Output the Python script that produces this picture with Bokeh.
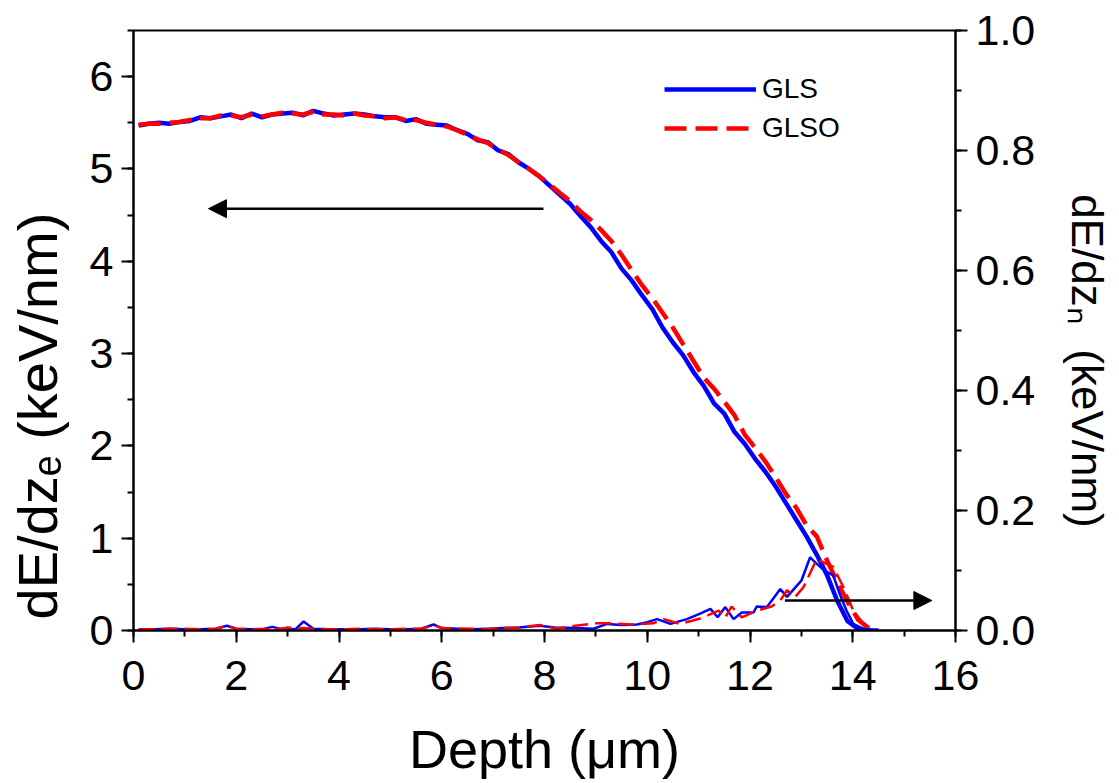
from bokeh.plotting import figure
from bokeh.models import (Range1d, LinearAxis, SingleIntervalTicker, PrintfTickFormatter,
                          Legend, LegendItem, Arrow, NormalHead)
from bokeh.embed import file_html
from bokeh.resources import INLINE

# ---------------- data ----------------
depth_e = [0.1, 0.3, 0.5, 0.7, 0.9, 1.1, 1.3, 1.5, 1.7, 1.9,
           2.1, 2.3, 2.5, 2.7, 2.9, 3.1, 3.3, 3.5, 3.7, 3.9,
           4.1, 4.3, 4.5, 4.7, 4.9, 5.1, 5.3, 5.5, 5.7, 5.9,
           6.1, 6.3, 6.5, 6.7, 6.9, 7.1, 7.3, 7.5, 7.7, 7.9,
           8.1, 8.3, 8.5, 8.7, 8.9, 9.1, 9.3, 9.5, 9.7, 9.9,
           10.1, 10.3, 10.5, 10.7, 10.9, 11.1, 11.3, 11.5, 11.7, 11.9,
           12.1, 12.3, 12.5, 12.7, 12.9, 13.1, 13.3, 13.5, 13.7, 13.9,
           14.1, 14.3, 14.5]

dEe_gls = [5.47, 5.49, 5.50, 5.49, 5.51, 5.52, 5.56, 5.55, 5.57, 5.59,
           5.55, 5.60, 5.56, 5.59, 5.60, 5.61, 5.58, 5.63, 5.60, 5.58,
           5.59, 5.60, 5.59, 5.57, 5.56, 5.56, 5.52, 5.54, 5.49, 5.48,
           5.47, 5.42, 5.38, 5.31, 5.29, 5.20, 5.16, 5.07, 5.00, 4.92,
           4.82, 4.72, 4.62, 4.49, 4.37, 4.22, 4.10, 3.92, 3.79, 3.63,
           3.48, 3.28, 3.12, 2.98, 2.80, 2.65, 2.46, 2.35, 2.15, 2.02,
           1.86, 1.72, 1.56, 1.38, 1.20, 1.02, 0.82, 0.60, 0.32, 0.10,
           0.02, 0.00, 0.00]

dEe_glso = [5.48, 5.49, 5.49, 5.50, 5.51, 5.53, 5.55, 5.55, 5.58, 5.58,
            5.56, 5.59, 5.57, 5.59, 5.61, 5.60, 5.59, 5.62, 5.59, 5.59,
            5.58, 5.60, 5.58, 5.57, 5.55, 5.56, 5.53, 5.53, 5.50, 5.48,
            5.46, 5.42, 5.37, 5.32, 5.28, 5.21, 5.15, 5.07, 5.00, 4.92,
            4.83, 4.74, 4.65, 4.54, 4.45, 4.34, 4.22, 4.07, 3.90, 3.74,
            3.60, 3.44, 3.28, 3.10, 2.92, 2.74, 2.62, 2.48, 2.33, 2.12,
            1.98, 1.83, 1.66, 1.48, 1.33, 1.14, 1.02, 0.76, 0.52, 0.31,
            0.12, 0.03, 0.00]

depth_n_gls = [0.1, 0.4, 0.7, 1.0, 1.3, 1.6, 1.82, 2.0, 2.3, 2.55,
               2.7, 2.85, 3.0, 3.15, 3.31, 3.5, 3.8, 4.1, 4.4, 4.7,
               5.0, 5.3, 5.6, 5.84, 6.0, 6.3, 6.6, 6.9, 7.2, 7.5,
               7.9, 8.2, 8.6, 8.95, 9.22, 9.5, 9.8, 10.0, 10.19, 10.45,
               10.77, 11.03, 11.23, 11.37, 11.52, 11.68, 11.84, 12.07, 12.13, 12.33,
               12.59, 12.72, 13.0, 13.17, 13.30, 13.45, 13.62, 13.75, 13.88, 14.01,
               14.2, 14.4]
dEn_gls = [0.002, 0.002, 0.003, 0.002, 0.002, 0.003, 0.008, 0.003, 0.002, 0.003,
           0.006, 0.003, 0.003, 0.002, 0.015, 0.003, 0.002, 0.002, 0.002, 0.003,
           0.002, 0.002, 0.003, 0.010, 0.004, 0.003, 0.002, 0.003, 0.004, 0.005,
           0.008, 0.005, 0.004, 0.003, 0.011, 0.009, 0.010, 0.014, 0.019, 0.011,
           0.019, 0.028, 0.036, 0.022, 0.039, 0.019, 0.030, 0.030, 0.040, 0.039,
           0.069, 0.056, 0.083, 0.122, 0.111, 0.100, 0.092, 0.060, 0.033, 0.011,
           0.003, 0.001]

depth_n_glso = [0.1, 0.4, 0.7, 1.0, 1.3, 1.6, 1.82, 2.0, 2.3, 2.55,
                2.7, 2.85, 3.0, 3.15, 3.31, 3.5, 3.8, 4.1, 4.4, 4.7,
                5.0, 5.3, 5.6, 5.84, 6.0, 6.3, 6.6, 6.9, 7.2, 7.5,
                7.92, 8.24, 8.6, 9.0, 9.3, 9.7, 10.12, 10.32, 10.64, 11.03,
                11.2, 11.39, 11.52, 11.64, 11.84, 12.13, 12.42, 12.59, 12.72, 12.88,
                13.04, 13.30, 13.49, 13.62, 13.82, 14.01, 14.21, 14.37]
dEn_glso = [0.002, 0.002, 0.003, 0.003, 0.002, 0.003, 0.008, 0.003, 0.002, 0.002,
            0.004, 0.002, 0.005, 0.003, 0.004, 0.003, 0.002, 0.002, 0.003, 0.002,
            0.002, 0.003, 0.003, 0.009, 0.004, 0.003, 0.003, 0.002, 0.004, 0.005,
            0.009, 0.003, 0.008, 0.012, 0.012, 0.010, 0.012, 0.019, 0.011, 0.020,
            0.026, 0.033, 0.022, 0.040, 0.022, 0.033, 0.040, 0.050, 0.067, 0.056,
            0.072, 0.119, 0.111, 0.106, 0.072, 0.033, 0.011, 0.002]

series_names = ["GLS", "GLSO"]
x_title = "Depth (μm)"
y_left_title = "dE/dzₑ (keV/nm)"
y_right_title = "dE/dzₙ\u00a0\u00a0(keV/nm)"

# ---------------- figure ----------------
FONT = "Liberation Sans"
NB = "\u00a0"
W, H = 1115, 782
FL, FT = 133, 30
FR = W - 955
FB = H - 630

p = figure(width=W, height=H, output_backend="svg", toolbar_location=None,
           x_range=Range1d(0, 16), y_range=Range1d(0, 6.5),
           min_border_left=FL, min_border_right=FR, min_border_top=FT, min_border_bottom=FB,
           background_fill_color="white", border_fill_color="white")
p.extra_y_ranges = {"right": Range1d(0, 1.0)}
p.xgrid.visible = False
p.ygrid.visible = False
p.outline_line_color = "black"
p.outline_line_width = 2


def style_axis(ax, standoff):
    ax.axis_line_width = 2
    ax.axis_line_color = "black"
    ax.major_tick_line_width = 2
    ax.minor_tick_line_width = 2
    ax.major_tick_in = 0
    ax.major_tick_out = 12
    ax.minor_tick_in = 0
    ax.minor_tick_out = 6
    ax.major_label_text_font = FONT
    ax.major_label_text_font_size = "43px"
    ax.major_label_text_color = "black"
    ax.major_label_standoff = standoff
    ax.axis_label_text_font = FONT
    ax.axis_label_text_font_style = "normal"
    ax.axis_label_text_color = "black"


xax = p.xaxis[0]
xax.ticker = SingleIntervalTicker(interval=2, num_minor_ticks=2)
style_axis(xax, 18)
xax.axis_label = x_title
xax.axis_label_text_font_size = "54px"
xax.axis_label_standoff = 26

yax = p.yaxis[0]
yax.ticker = SingleIntervalTicker(interval=1, num_minor_ticks=2)
style_axis(yax, 8)
yax.axis_label = y_left_title + NB * 11
yax.axis_label_text_font_size = "56px"
yax.axis_label_standoff = 18

rax = LinearAxis(y_range_name="right", ticker=SingleIntervalTicker(interval=0.2, num_minor_ticks=2),
                 formatter=PrintfTickFormatter(format="%.1f"))
style_axis(rax, 8)
rax.axis_label = NB * 5 + y_right_title
rax.axis_label_text_font_size = "44px"
rax.axis_label_standoff = 25
p.add_layout(rax, "right")

# ---------------- lines ----------------
r_gls = p.line(depth_e, dEe_gls, line_color="#0000ff", line_width=4.5)
r_glso = p.line(depth_e, dEe_glso, line_color="#ff0000", line_width=4.5, line_dash="22 9")
p.line(depth_n_gls, dEn_gls, y_range_name="right", line_color="#0000ff", line_width=2.5)
p.line(depth_n_glso, dEn_glso, y_range_name="right", line_color="#ff0000", line_width=2.5,
       line_dash="16 7")

legend = Legend(items=[LegendItem(label=series_names[0], renderers=[r_gls]),
                       LegendItem(label=series_names[1], renderers=[r_glso])],
                location=(531, 486), glyph_width=92, glyph_height=30, label_height=30,
                spacing=7, padding=0, margin=0, border_line_color=None,
                background_fill_alpha=0, label_text_font=FONT, label_text_font_size="28px",
                label_text_color="black", label_standoff=6)
p.add_layout(legend)

# ---------------- arrows ----------------
p.add_layout(Arrow(end=NormalHead(size=18, fill_color="black", line_color="black"),
                   x_start=7.98, y_start=4.57, x_end=1.46, y_end=4.57,
                   line_width=2.5, line_color="black"))
p.add_layout(Arrow(end=NormalHead(size=18, fill_color="black", line_color="black"),
                   x_start=12.68, y_start=0.05, x_end=15.54, y_end=0.05, y_range_name="right",
                   line_width=2.5, line_color="black"))

open("out.html", "w").write(file_html(p, INLINE))
